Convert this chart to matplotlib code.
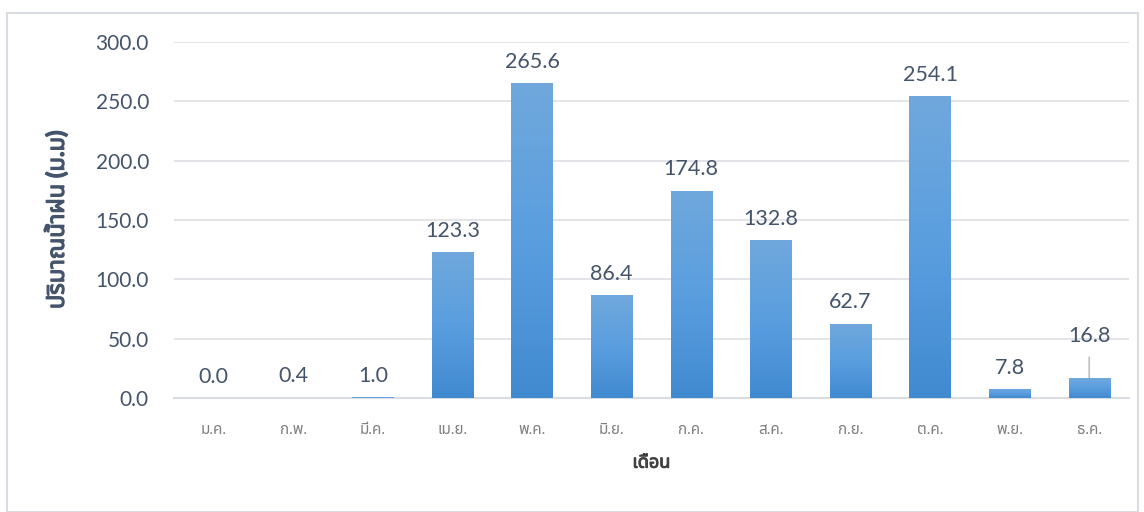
import matplotlib
matplotlib.use("Agg")
import matplotlib.pyplot as plt
from matplotlib import font_manager
from matplotlib.ft2font import FT2Font
from matplotlib.patches import Rectangle
import matplotlib.patheffects as pe
import numpy as np

MONTHS = ['ม.ค.', 'ก.พ.', 'มี.ค.', 'เม.ย.', 'พ.ค.', 'มิ.ย.',
          'ก.ค.', 'ส.ค.', 'ก.ย.', 'ต.ค.', 'พ.ย.', 'ธ.ค.']
RAIN = [0.0, 0.4, 1.0, 123.3, 265.6, 86.4, 174.8, 132.8, 62.7, 254.1, 7.8, 16.8]
Y_TICKS = [0, 50, 100, 150, 200, 250, 300]
Y_TITLE = 'ปริมาณน้ำฝน (ม.ม)'
X_TITLE = 'เดือน'


def find_thai_font():
    # look for any installed face that carries Thai glyphs
    found = []
    for f in font_manager.fontManager.ttflist:
        try:
            cmap = FT2Font(f.fname).get_charmap()
        except Exception:
            continue
        if 0x0E01 in cmap and 0x0E19 in cmap:
            found.append(f.name)
    pref = ['Noto Sans Thai', 'Noto Sans Thai UI', 'Sarabun', 'Leelawadee UI',
            'Tahoma', 'Loma', 'Garuda', 'Umpush', 'Waree', 'Kinnari']
    for p in pref:
        if p in found:
            return p
    return found[0] if found else None


thai = find_thai_font()
families = ['Lato'] + ([thai] if thai else []) + ['DejaVu Sans']
plt.rcParams['font.family'] = families

fig = plt.figure(figsize=(11.44, 5.12), dpi=100)
fig.patches.append(Rectangle((7 / 1144, 0), 1131 / 1144, 1 - 12 / 512 - 0.002,
                             transform=fig.transFigure, fill=False,
                             edgecolor='#d9dde3', linewidth=1.5))

ax = fig.add_axes([174 / 1144, 1 - 398 / 512, (1129 - 174) / 1144, (398 - 42) / 512])
x = np.arange(len(MONTHS))
bars = ax.bar(x, RAIN, width=0.52, color='#6aa5dd', zorder=3)

# vertical gradient on each bar, lighter at the top
grad = np.linspace(0, 1, 256).reshape(-1, 1)
cmap = matplotlib.colors.LinearSegmentedColormap.from_list(
    'bar', ['#418ad0', '#5a9edf', '#70a8dc'])
for b in bars:
    if b.get_height() < 3:
        continue
    x0, w, h = b.get_x(), b.get_width(), b.get_height()
    im = ax.imshow(grad, extent=(x0, x0 + w, 0, h), origin='lower', cmap=cmap,
                   aspect='auto', zorder=3.1, interpolation='bicubic')
    im.set_clip_path(b)

ax.set_xlim(-0.5, len(MONTHS) - 0.5)
ax.set_ylim(0, 300)
ax.set_yticks(Y_TICKS)
ax.set_yticklabels([f'{v:.1f}' for v in Y_TICKS])
ax.set_xticks(x)
ax.set_xticklabels(MONTHS)
ax.grid(axis='y', color='#dfe2e6', linewidth=1.3, zorder=0)
ax.set_axisbelow(True)
for s in ['top', 'right', 'left']:
    ax.spines[s].set_visible(False)
ax.spines['bottom'].set_color('#d9dde3')
ax.spines['bottom'].set_linewidth(1.5)
ax.spines['bottom'].set_zorder(1)
ax.tick_params(axis='both', length=0)
ax.tick_params(axis='y', labelsize=15, labelcolor='#44546a', pad=18)
ax.tick_params(axis='x', labelsize=11, labelcolor='#7f7f7f', pad=18)

for i, v in enumerate(RAIN):
    if MONTHS[i] == 'ธ.ค.':
        ax.annotate(f'{v:.1f}', (i, v), xytext=(0, 23), textcoords='offset points',
                    ha='center', va='bottom', fontsize=15.5, color='#44546a',
                    arrowprops=dict(arrowstyle='-', color='#bfbfbf', lw=1.2,
                                    shrinkA=6, shrinkB=0))
    else:
        ax.annotate(f'{v:.1f}', (i, v), xytext=(0, 8), textcoords='offset points',
                    ha='center', va='bottom', fontsize=15.5, color='#44546a')

ax.set_ylabel(Y_TITLE, fontsize=17, fontweight='bold', color='#44546a', labelpad=20,
              path_effects=[pe.withStroke(linewidth=0.9, foreground='#44546a')])
ax.set_xlabel(X_TITLE, fontsize=13, fontweight='bold', color='#404040', labelpad=12,
              path_effects=[pe.withStroke(linewidth=0.7, foreground='#404040')])

fig.savefig('out.png', dpi=100, facecolor='white')
